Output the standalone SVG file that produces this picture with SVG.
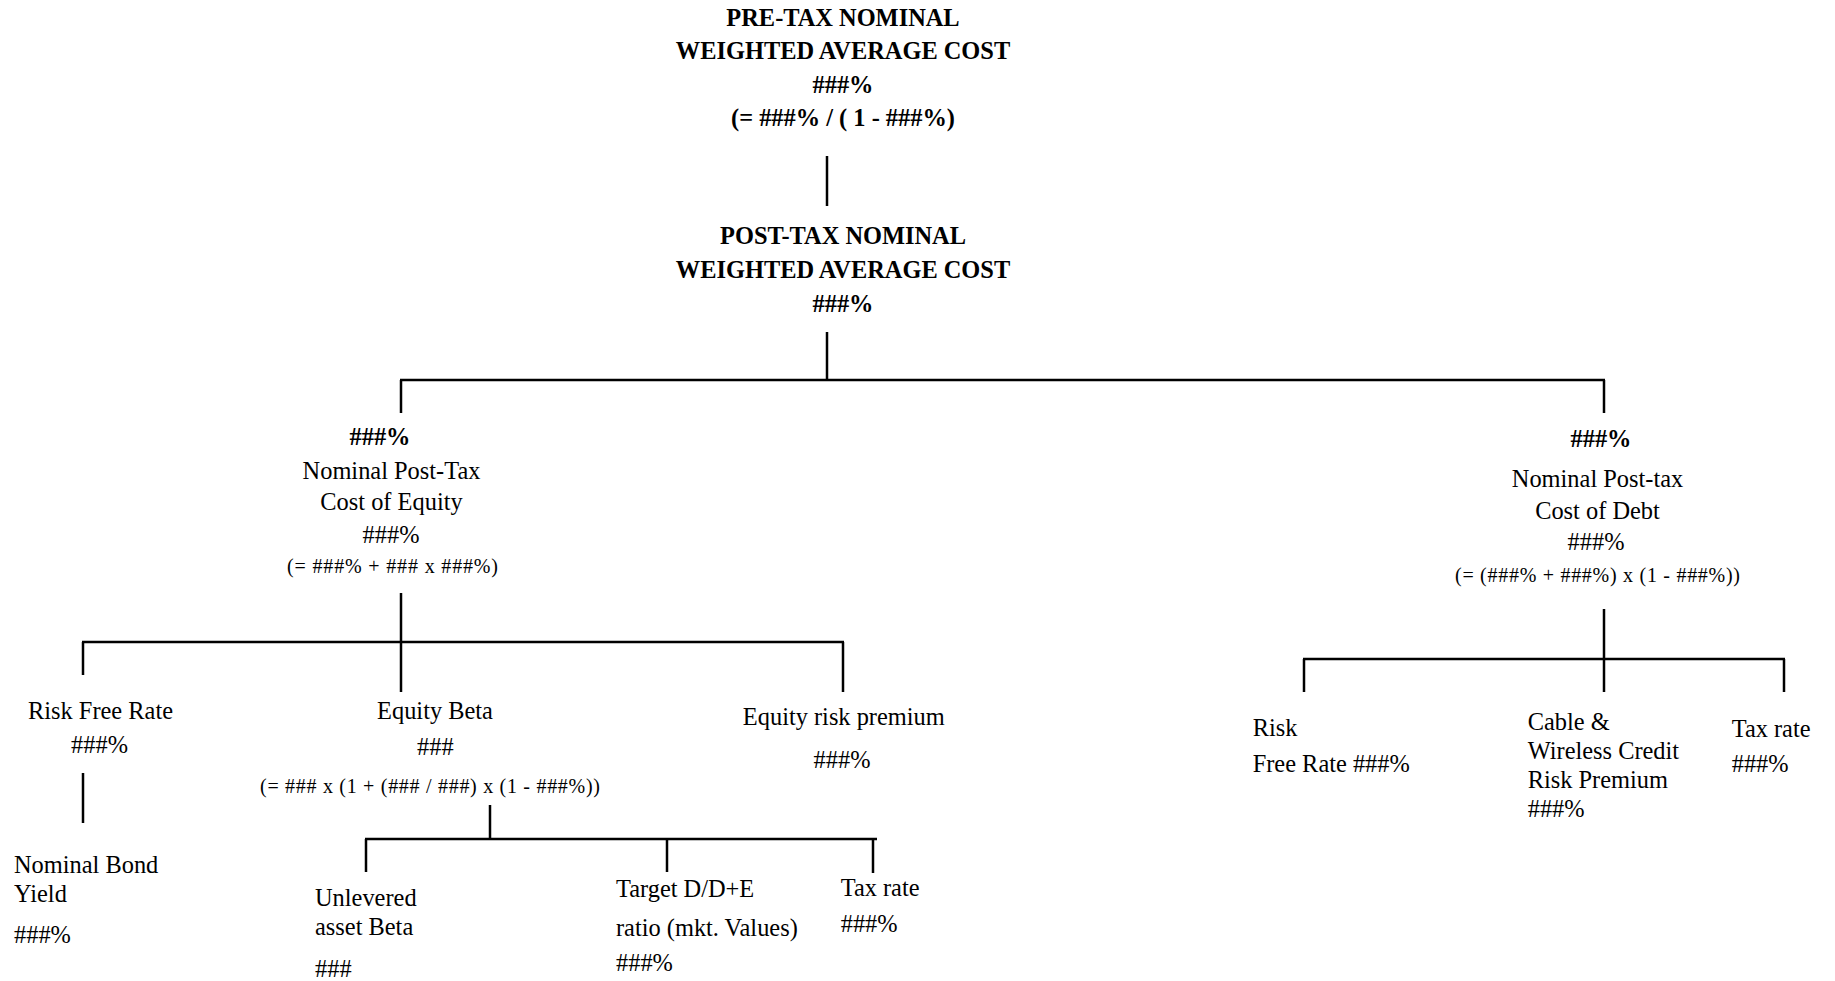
<svg xmlns="http://www.w3.org/2000/svg" width="1835" height="981" viewBox="0 0 1835 981">
  <style>
    text { font-family: "Liberation Serif", "Times New Roman", serif; font-size: 24.4px; fill: #000; }
    .b { font-weight: bold; }
    .c { text-anchor: middle; }
    .eq { font-size: 20px; }
    .conn line { stroke: #000; stroke-width: 2.5; stroke-linecap: butt; }
  </style>
  <rect width="1835" height="981" fill="#fff"/>

  <!-- connectors -->
  <g class="conn" id="connectors">
    <line x1="827" y1="156" x2="827" y2="206"/>
    <line x1="827" y1="332" x2="827" y2="381"/>
    <line x1="400" y1="380" x2="1605" y2="380"/>
    <line x1="401" y1="380" x2="401" y2="413"/>
    <line x1="1604" y1="380" x2="1604" y2="413"/>

    <!-- equity branch -->
    <line x1="401" y1="593" x2="401" y2="692"/>
    <line x1="82" y1="642" x2="844" y2="642"/>
    <line x1="83" y1="642" x2="83" y2="675"/>
    <line x1="843" y1="642" x2="843" y2="692"/>
    <line x1="83" y1="773" x2="83" y2="823"/>

    <!-- beta branch -->
    <line x1="490" y1="805" x2="490" y2="839"/>
    <line x1="365" y1="839" x2="877" y2="839"/>
    <line x1="366" y1="839" x2="366" y2="872"/>
    <line x1="667" y1="839" x2="667" y2="872"/>
    <line x1="873" y1="839" x2="873" y2="873"/>

    <!-- debt branch -->
    <line x1="1604" y1="609" x2="1604" y2="692"/>
    <line x1="1303" y1="659" x2="1785" y2="659"/>
    <line x1="1304" y1="659" x2="1304" y2="692"/>
    <line x1="1784" y1="659" x2="1784" y2="692"/>
  </g>

  <g id="pretax-wacc">
    <text class="b c" x="843" y="26">PRE-TAX NOMINAL</text>
    <text class="b c" x="843" y="58.5">WEIGHTED AVERAGE COST</text>
    <text class="b c" x="843" y="92.5">###%</text>
    <text class="b c" x="843" y="126">(= ###% / ( 1 - ###%)</text>
  </g>

  <g id="posttax-wacc">
    <text class="b c" x="843" y="243.5">POST-TAX NOMINAL</text>
    <text class="b c" x="843" y="277.5">WEIGHTED AVERAGE COST</text>
    <text class="b c" x="843" y="311.5">###%</text>
  </g>

  <g id="cost-of-equity">
    <text class="b c" x="380" y="445">###%</text>
    <text class="c" x="391.5" y="479">Nominal Post-Tax</text>
    <text class="c" x="391.5" y="510">Cost of Equity</text>
    <text class="c" x="391" y="542.5">###%</text>
    <text class="c eq" x="392.5" y="573" textLength="211" lengthAdjust="spacing">(= ###% + ### x ###%)</text>
  </g>

  <g id="cost-of-debt">
    <text class="b c" x="1601" y="446.5">###%</text>
    <text class="c" x="1597.5" y="487">Nominal Post-tax</text>
    <text class="c" x="1597.5" y="519">Cost of Debt</text>
    <text class="c" x="1596" y="550">###%</text>
    <text class="c eq" x="1597.5" y="581.5" textLength="285" lengthAdjust="spacing">(= (###% + ###%) x (1 - ###%))</text>
  </g>

  <g id="risk-free-rate">
    <text class="c" x="100.5" y="719">Risk Free Rate</text>
    <text class="c" x="99.5" y="752.5">###%</text>
  </g>

  <g id="equity-beta">
    <text class="c" x="435" y="719.3">Equity Beta</text>
    <text class="c" x="435.3" y="755">###</text>
    <text class="c eq" x="430" y="793.3" textLength="340" lengthAdjust="spacing">(= ### x (1 + (### / ###) x (1 - ###%))</text>
  </g>

  <g id="equity-risk-premium">
    <text class="c" x="843.8" y="725">Equity risk premium</text>
    <text class="c" x="842" y="768.3">###%</text>
  </g>

  <g id="nominal-bond-yield">
    <text x="14" y="873">Nominal Bond</text>
    <text x="14" y="901.5">Yield</text>
    <text x="14" y="943">###%</text>
  </g>

  <g id="unlevered-beta">
    <text x="315" y="906">Unlevered</text>
    <text x="315" y="935">asset Beta</text>
    <text x="315" y="977">###</text>
  </g>

  <g id="target-gearing">
    <text x="616" y="897">Target D/D+E</text>
    <text x="616" y="936">ratio (mkt. Values)</text>
    <text x="616" y="971">###%</text>
  </g>

  <g id="equity-tax-rate">
    <text x="840.7" y="896">Tax rate</text>
    <text x="840.7" y="932">###%</text>
  </g>

  <g id="debt-risk-free-rate">
    <text x="1252.7" y="736">Risk</text>
    <text x="1252.7" y="771.7">Free Rate ###%</text>
  </g>

  <g id="credit-risk-premium">
    <text x="1527.7" y="730">Cable &amp;</text>
    <text x="1527.7" y="759">Wireless Credit</text>
    <text x="1527.7" y="788">Risk Premium</text>
    <text x="1527.7" y="817">###%</text>
  </g>

  <g id="debt-tax-rate">
    <text x="1731.7" y="737">Tax rate</text>
    <text x="1731.7" y="772">###%</text>
  </g>
</svg>
